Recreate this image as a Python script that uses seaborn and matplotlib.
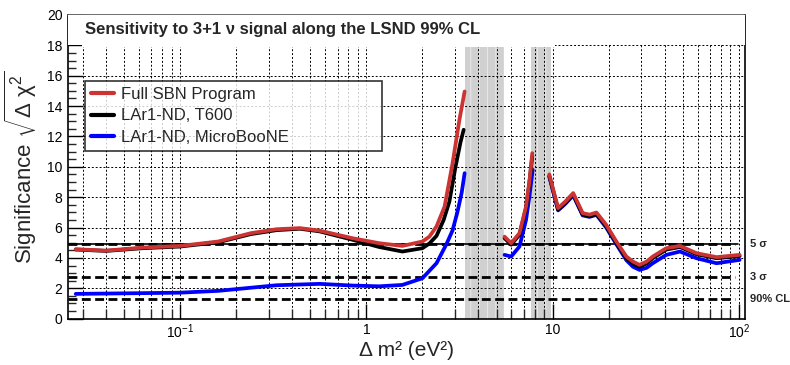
import numpy as np
import pandas as pd
import matplotlib
matplotlib.use("Agg")
import matplotlib.pyplot as plt
import matplotlib.ticker as mticker
import matplotlib.transforms as mtrans
from matplotlib.lines import Line2D
from matplotlib.patches import Rectangle
import seaborn as sns

# ---------------- data ----------------
series_names = ["Full SBN Program", "LAr1-ND, T600", "LAr1-ND, MicroBooNE"]
series_colors = ["#cc3333", "#000000", "#0000ff"]

# Full SBN Program
sbn_x1 = [0.0275, 0.04, 0.063, 0.1, 0.16, 0.24, 0.33, 0.44, 0.56, 0.84, 1.17, 1.56, 2.0, 2.18, 2.38, 2.63, 2.9, 3.16, 3.37]
sbn_y1 = [4.57, 4.48, 4.68, 4.79, 5.08, 5.63, 5.89, 5.96, 5.8, 5.3, 4.97, 4.79, 5.08, 5.4, 6.07, 7.38, 10.2, 13.1, 14.96]
sbn_x2 = [5.52, 5.99, 6.64, 7.2, 7.5, 7.78]
sbn_y2 = [5.4, 4.97, 5.63, 7.38, 9.0, 10.9]
sbn_x3 = [9.6, 10.7, 11.7, 12.9, 14.5, 15.8, 17.2, 19.4, 22.0, 24.9, 27.0, 29.3, 32.0, 34.5, 40.8, 48.3, 59.3, 75.9, 101.0]
sbn_y3 = [9.5, 7.28, 7.71, 8.27, 6.95, 6.85, 6.99, 6.18, 5.08, 4.09, 3.76, 3.54, 3.76, 4.09, 4.64, 4.79, 4.31, 4.05, 4.2]

# LAr1-ND, T600
t600_x1 = [0.0275, 0.04, 0.063, 0.1, 0.16, 0.24, 0.33, 0.44, 0.56, 0.84, 1.17, 1.56, 2.0, 2.18, 2.38, 2.6, 2.79, 3.0, 3.2, 3.33]
t600_y1 = [4.55, 4.46, 4.64, 4.75, 5.03, 5.57, 5.83, 5.92, 5.75, 5.2, 4.72, 4.42, 4.64, 4.95, 5.45, 6.5, 7.7, 9.9, 11.6, 12.44]
t600_x2 = [5.52, 5.99, 6.64, 7.2, 7.5, 7.78]
t600_y2 = [5.3, 4.87, 5.53, 7.28, 8.9, 10.7]
t600_x3 = [9.6, 10.7, 11.7, 12.9, 14.5, 15.8, 17.2, 19.4, 22.0, 24.9, 27.0, 29.3, 32.0, 34.5, 40.8, 48.3, 59.3, 75.9, 101.0]
t600_y3 = [9.4, 7.18, 7.61, 8.17, 6.85, 6.75, 6.89, 6.08, 4.98, 3.97, 3.62, 3.42, 3.64, 3.98, 4.55, 4.72, 4.24, 3.98, 4.12]

# LAr1-ND, MicroBooNE
ub_x1 = [0.0275, 0.063, 0.1, 0.16, 0.33, 0.56, 0.84, 1.17, 1.56, 2.0, 2.38, 2.69, 2.9, 3.08, 3.25, 3.37]
ub_y1 = [1.63, 1.68, 1.71, 1.83, 2.2, 2.29, 2.18, 2.13, 2.22, 2.66, 3.65, 4.9, 5.8, 7.0, 8.3, 9.58]
ub_x2 = [5.52, 5.99, 6.64, 7.2, 7.5, 7.82]
ub_y2 = [4.2, 4.09, 4.75, 6.5, 8.0, 9.8]
ub_x3 = [9.6, 10.7, 11.7, 12.9, 14.5, 15.8, 17.2, 19.4, 22.0, 24.9, 27.0, 29.3, 32.0, 34.5, 40.8, 48.3, 59.3, 75.9, 101.0]
ub_y3 = [9.35, 7.13, 7.56, 8.12, 6.8, 6.7, 6.84, 6.0, 4.9, 3.85, 3.42, 3.21, 3.35, 3.65, 4.2, 4.42, 3.98, 3.65, 3.87]

# reference significance levels
level_values = [4.9, 2.77, 1.32]
level_labels = ["5 σ", "3 σ", "90% CL"]

# excluded (hatched) bands in dm2
band_lo = [3.4, 7.7]
band_hi = [5.5, 9.75]

x_tick_vals = [0.1, 1, 10, 100]
x_tick_labels = ["$10^{-1}$", "1", "10", "$10^{2}$"]
y_tick_vals = [0, 2, 4, 6, 8, 10, 12, 14, 16, 18, 20]

# ---------------- build table ----------------
rows = []
def add(name, seg, xs, ys):
    for a, b in zip(xs, ys):
        rows.append({"dm2": a, "sig": b, "series": name, "seg": seg})

add(series_names[0], 1, sbn_x1, sbn_y1)
add(series_names[0], 2, sbn_x2, sbn_y2)
add(series_names[0], 3, sbn_x3, sbn_y3)
add(series_names[1], 1, t600_x1, t600_y1)
add(series_names[1], 2, t600_x2, t600_y2)
add(series_names[1], 3, t600_x3, t600_y3)
add(series_names[2], 1, ub_x1, ub_y1)
add(series_names[2], 2, ub_x2, ub_y2)
add(series_names[2], 3, ub_x3, ub_y3)
df = pd.DataFrame(rows)

# ---------------- style ----------------
sns.set_theme(style="white")
plt.rcParams["font.family"] = ["Liberation Sans", "DejaVu Sans"]
plt.rcParams["mathtext.fontset"] = "custom"
plt.rcParams["mathtext.rm"] = "Liberation Sans"
plt.rcParams["mathtext.it"] = "Liberation Sans"
plt.rcParams["mathtext.bf"] = "Liberation Sans:bold"
plt.rcParams["hatch.linewidth"] = 0.5
plt.rcParams["hatch.color"] = "white"

fig = plt.figure(figsize=(7.9, 3.65), dpi=100)
ax = fig.add_axes([0.0861, 0.127, 0.857, 0.832])
ax.set_xscale("log")

# hatched bands: grey fill plus white vertical stripes
for lo, hi in zip(band_lo, band_hi):
    ax.axvspan(lo, hi, facecolor="#d0d0d0", edgecolor="none", linewidth=0, zorder=0.1)
    ax.axvspan(lo, hi, facecolor="none", edgecolor="#f2f2f2", hatch="||", linewidth=0, zorder=0.2)

# grid
ax.set_axisbelow(True)
ax.grid(True, which="both", axis="x", color="black", linestyle=(0, (2, 2)), linewidth=0.7)
ax.grid(True, which="major", axis="y", color="black", linestyle=(0, (2, 2)), linewidth=0.7)

# level lines
ax.axhline(level_values[0], xmin=0, xmax=0.99, color="black", lw=1.2, zorder=2)
for v in level_values:
    ax.axhline(v, xmin=0, xmax=0.985, color="black", lw=2.0, linestyle=(0, (3.2, 1.6)), zorder=2)

pal = dict(zip(series_names, series_colors))
sns.lineplot(data=df, x="dm2", y="sig", hue="series", units="seg", estimator=None,
             hue_order=[series_names[2], series_names[1], series_names[0]],
             palette=pal, linewidth=2.7, legend=False, sort=False, ax=ax, zorder=4)

ax.set_xlim(0.025, 108)
ax.set_ylim(0, 20)

# title box (white area on top)
ax.add_patch(Rectangle((0.0, 0.9025), 1.0, 0.0975, transform=ax.transAxes,
                       facecolor="white", edgecolor="none", zorder=3))
ax.add_patch(Rectangle((0.02, 0.895), 0.70, 0.105, transform=ax.transAxes,
                       facecolor="white", edgecolor="none", zorder=3))
ax.text(0.025, 0.951, "Sensitivity to 3+1 ν signal along the LSND 99% CL",
        transform=ax.transAxes, fontsize=12, fontweight="bold", va="center", ha="left", zorder=5)

# ticks
ax.set_xticks(x_tick_vals)
ax.set_xticklabels(x_tick_labels)
ax.xaxis.set_minor_locator(mticker.LogLocator(base=10, subs=np.arange(2, 10)))
ax.xaxis.set_minor_formatter(mticker.NullFormatter())
ax.set_yticks(y_tick_vals)
ax.yaxis.set_minor_locator(mticker.MultipleLocator(0.5))
ax.tick_params(which="major", direction="in", length=11, width=1.0, colors="black",
               labelsize=10, left=True, bottom=True, top=False, right=False, pad=4)
ax.tick_params(which="minor", direction="in", length=5.5, width=1.0,
               left=True, bottom=True, top=False, right=False)
ax.tick_params(axis="x", which="minor", length=7)
ax.tick_params(axis="x", which="major", pad=3)

for s in ax.spines.values():
    s.set_color("black")
    s.set_linewidth(1.2)
ax.spines["top"].set_color("#555555")

ax.set_xlabel("Δ m² (eV²)", fontsize=15, labelpad=0)
ax.set_ylabel(r"Significance $\sqrt{\Delta\ \chi^{2}}$", fontsize=16, labelpad=6)

# right-side level labels
trans = mtrans.blended_transform_factory(ax.transAxes, ax.transData)
for v, lab in zip(level_values, level_labels):
    ax.text(1.008, v, lab, transform=trans, fontsize=8, fontweight="bold",
            va="center", ha="left", clip_on=False)

# legend
handles = [Line2D([0], [0], color=c, lw=3) for c in series_colors]
leg = ax.legend(handles, series_names, loc="upper left",
                bbox_to_anchor=(0.025, 0.549, 0.439, 0.234), mode="expand",
                fontsize=12, frameon=True, fancybox=False, handlelength=1.4,
                handletextpad=0.4, borderpad=0.35, labelspacing=0.4, borderaxespad=0)
leg.get_frame().set_edgecolor("black")
leg.get_frame().set_linewidth(1.2)
leg.set_zorder(6)

fig.savefig("out.png", dpi=100)
